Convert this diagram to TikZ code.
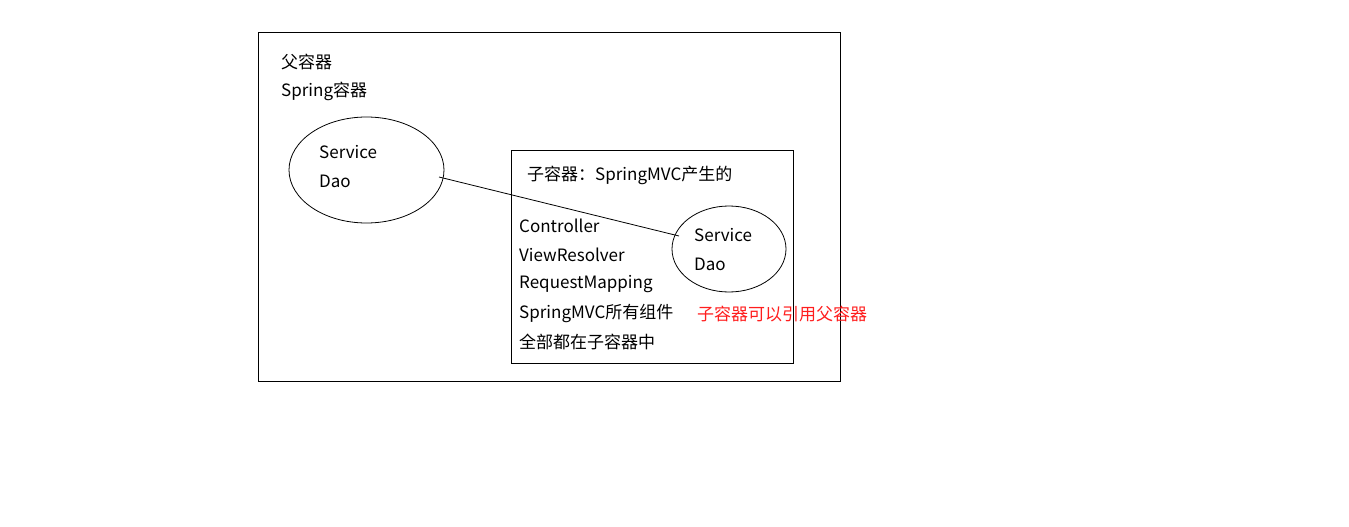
\documentclass[tikz,border=0pt]{standalone}
\usepackage{fontspec}
\setmainfont{Noto Sans CJK SC}
\usetikzlibrary{shapes.geometric}
\definecolor{redtxt}{RGB}{255,30,30}
\tikzset{
  lbl/.style={anchor=west,inner sep=0pt,font=\fontsize{17}{19}\selectfont},
  box/.style={draw,line width=0.8pt},
  oval/.style={draw,ellipse,line width=0.8pt,inner sep=0pt},
  link/.style={line width=0.8pt}
}
\begin{document}
\begin{tikzpicture}[x=1pt,y=-1pt]
\useasboundingbox (0,0) rectangle (1349,527);
\fill[white] (0,0) rectangle (1349,527);
\node[box,minimum width=582pt,minimum height=349pt,anchor=north west,inner sep=0pt] (outer) at (258,32) {};
\node[box,minimum width=282pt,minimum height=213pt,anchor=north west,inner sep=0pt] (inner) at (511,150) {};
\node[oval,minimum width=155pt,minimum height=106pt] (L) at (366.5,170) {};
\node[oval,minimum width=114pt,minimum height=86pt] (R) at (729,249) {};
\node[lbl] (t1) at (281,62) {父容器};
\node[lbl] (t2) at (281,91) {Spring容器};
\node[lbl] (s1) at (319,152) {Service};
\node[lbl] (d1) at (319,181) {Dao};
\node[lbl] (c0) at (527,175) {子容器：SpringMVC产生的};
\node[lbl] (c1) at (519,226) {Controller};
\node[lbl] (c2) at (519,255) {ViewResolver};
\node[lbl] (c3) at (519,284) {RequestMapping};
\node[lbl] (c4) at (519,313) {SpringMVC所有组件};
\node[lbl] (c5) at (519,342) {全部都在子容器中};
\node[lbl] (s2) at (694,235) {Service};
\node[lbl] (d2) at (694,264) {Dao};
\node[lbl,text=redtxt] (note) at (697,314) {子容器可以引用父容器};
\coordinate (a) at (439,177);
\coordinate (b) at (679,236);
\draw[link] (a) -- (b);
\end{tikzpicture}
\end{document}
